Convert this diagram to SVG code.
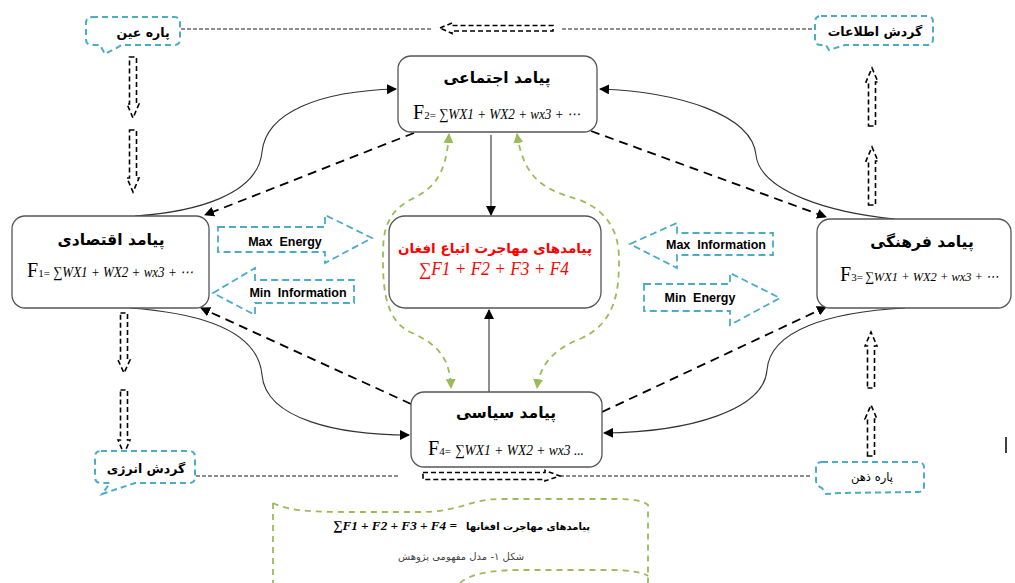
<svg xmlns="http://www.w3.org/2000/svg" width="1015" height="583" viewBox="0 0 1015 583">
<style>
.node{fill:#fff;stroke:#555;stroke-width:1.3}
.title{font-family:"DejaVu Sans","Noto Sans",sans-serif;font-weight:bold;font-size:15.5px;fill:#000;text-anchor:middle}
.fbig{font-family:"Liberation Serif",serif;font-size:20px;fill:#000}
.fsub{font-family:"Liberation Serif",serif;font-size:11px;fill:#000}
.fit{font-family:"Liberation Serif","DejaVu Serif",serif;font-style:italic;font-size:15px;fill:#000}
.callout{fill:#fff;stroke:#4BACC6;stroke-width:2;stroke-dasharray:6 4}
.ctext{font-family:"DejaVu Sans","Noto Sans",sans-serif;font-weight:bold;font-size:12.5px;fill:#000;text-anchor:middle}
.barrow{fill:none;stroke:#4BACC6;stroke-width:1.8;stroke-dasharray:7 4}
.blabel{font-family:"Liberation Sans",Arial,sans-serif;font-weight:bold;font-size:12.5px;fill:#000;text-anchor:middle}
.hollow{fill:none;stroke:#000;stroke-width:1.6;stroke-dasharray:5 3}
.thin{fill:none;stroke:#000;stroke-width:0.9;stroke-dasharray:4 2}
.solid{fill:none;stroke:#333;stroke-width:1.1}
.dash{fill:none;stroke:#000;stroke-width:1.8;stroke-dasharray:9 6}
.green{fill:none;stroke:#9BBB59;stroke-width:1.8;stroke-dasharray:6 5}
</style>
<defs>
<marker id="ah" viewBox="0 0 10 10" refX="9" refY="5" markerWidth="10" markerHeight="10" markerUnits="userSpaceOnUse" orient="auto"><path d="M0,0 L10,5 L0,10 Z" fill="#000"/></marker>
<marker id="ahg" viewBox="0 0 10 10" refX="9" refY="5" markerWidth="10" markerHeight="10" markerUnits="userSpaceOnUse" orient="auto-start-reverse"><path d="M0,0 L10,5 L0,10 Z" fill="#9BBB59"/></marker>
</defs>

<!-- thin dashed information lines -->
<g id="thin-lines">
<line class="thin" x1="181" y1="29" x2="432" y2="29"/>
<line class="thin" x1="562" y1="29" x2="812" y2="29"/>
<line class="thin" x1="196" y1="476" x2="400" y2="476"/>
<line class="thin" x1="560" y1="476" x2="812" y2="476"/>
<path class="hollow" d="M440,28 L452,23 L452,25.5 L553,25.5 L553,31 L452,31 L452,33.5 Z"/>
<path class="hollow" d="M423,472.5 L545,472.5 L545,470.5 L560,476 L545,481 L545,479.5 L423,479.5 Z"/>
</g>

<!-- hollow dashed vertical arrows -->
<g id="flow-arrows">
<path class="hollow" d="M129.5,57 L136.5,57 L136.5,104 L139,104 L133,118 L127,104 L129.5,104 Z"/>
<path class="hollow" d="M129.5,130 L136.5,130 L136.5,178 L139,178 L133,192 L127,178 L129.5,178 Z"/>
<path class="hollow" d="M120.5,313 L127.5,313 L127.5,360 L130,360 L124,373 L118,360 L120.5,360 Z"/>
<path class="hollow" d="M120.5,390 L127.5,390 L127.5,440 L130,440 L124,454 L118,440 L120.5,440 Z"/>
<path class="hollow" d="M868.5,126 L875.5,126 L875.5,82 L878,82 L872,68 L866,82 L868.5,82 Z"/>
<path class="hollow" d="M868.5,205 L875.5,205 L875.5,161 L878,161 L872,147 L866,161 L868.5,161 Z"/>
<path class="hollow" d="M867.5,388 L874.5,388 L874.5,346 L877,346 L871,332 L865,346 L867.5,346 Z"/>
<path class="hollow" d="M867.5,456 L874.5,456 L874.5,419 L877,419 L871,405 L865,419 L867.5,419 Z"/>
</g>

<!-- connectors -->
<g id="connectors">
<path class="solid" d="M135,216 C195,212 258,195 262,152 C266,112 320,91 396,89" marker-end="url(#ah)"/>
<path class="solid" d="M895,219 C832,213 760,192 756,155 C752,115 680,92 600,89" marker-end="url(#ah)"/>
<path class="solid" d="M130,308 C200,313 258,330 262,375 C266,420 340,435 409,435" marker-end="url(#ah)"/>
<path class="solid" d="M905,308 C830,312 770,330 767,370 C764,410 690,432 604,433" marker-end="url(#ah)"/>
<line class="solid" x1="491" y1="135" x2="491" y2="215" marker-end="url(#ah)"/>
<line class="solid" x1="489" y1="392" x2="489" y2="310" marker-end="url(#ah)"/>
<line class="dash" x1="414" y1="133" x2="205" y2="215" marker-end="url(#ah)"/>
<line class="dash" x1="591" y1="131" x2="826" y2="217" marker-end="url(#ah)"/>
<line class="dash" x1="411" y1="404" x2="201" y2="308" marker-end="url(#ah)"/>
<line class="dash" x1="602" y1="412" x2="826" y2="307" marker-end="url(#ah)"/>
<path class="green" d="M449,134 C446,180 430,190 410,200 C382,215 383,240 383,260 C383,290 386,320 410,332 C440,345 450,360 451,388" marker-start="url(#ahg)" marker-end="url(#ahg)"/>
<path class="green" d="M517,134 C524,180 545,190 580,200 C614,214 619,240 619,260 C619,290 616,322 582,338 C552,350 540,365 537,388" marker-start="url(#ahg)" marker-end="url(#ahg)"/>
</g>

<!-- blue block arrows -->
<g id="energy-arrows">
<path class="barrow" d="M218,227 L325,227 L325,215 L372,238 L325,263 L325,252 L218,252 Z"/>
<text class="blabel" x="285" y="246">Max&#160;&#160;Energy</text>
<path class="barrow" d="M213,293 L255,268 L255,280 L354,280 L354,303 L255,303 L255,315 Z"/>
<text class="blabel" x="298" y="297">Min&#160;&#160;Information</text>
<path class="barrow" d="M630,244 L677,223 L677,233 L773,233 L773,255 L677,255 L677,268 Z"/>
<text class="blabel" x="716" y="249">Max&#160;&#160;Information</text>
<path class="barrow" d="M644,284 L730,284 L730,273 L780,298 L730,325 L730,311 L644,311 Z"/>
<text class="blabel" x="700" y="302">Min&#160;&#160;Energy</text>
</g>

<!-- nodes -->
<g id="node-social">
<rect class="node" x="398" y="56" width="199" height="76" rx="13"/>
<text class="title" x="497" y="83">پیامد اجتماعی</text>
<text x="413" y="119"><tspan class="fbig">F</tspan><tspan class="fsub">2=</tspan></text>
<text class="fit" x="439" y="119" textLength="141" lengthAdjust="spacingAndGlyphs">∑WX1 + WX2 + wx3 + ⋯</text>
</g>
<g id="node-economic">
<rect class="node" x="12" y="216" width="197" height="92" rx="13"/>
<text class="title" x="111" y="245">پیامد اقتصادی</text>
<text x="27" y="277"><tspan class="fbig">F</tspan><tspan class="fsub">1=</tspan></text>
<text class="fit" x="53" y="277" textLength="140" lengthAdjust="spacingAndGlyphs">∑WX1 + WX2 + wx3 + ⋯</text>
</g>
<g id="node-central">
<rect class="node" x="389" y="216" width="212" height="92" rx="16"/>
<text x="495" y="253" style="font-family:'DejaVu Sans','Noto Sans',sans-serif;font-weight:bold;font-size:13.5px;fill:#FF0000;text-anchor:middle">پیامدهای مهاجرت اتباع افغان</text>
<text x="494" y="275" textLength="150" lengthAdjust="spacingAndGlyphs" style="font-family:'Liberation Serif',serif;font-style:italic;font-size:18px;fill:#FF0000;text-anchor:middle">∑F1 + F2 + F3 + F4</text>
</g>
<g id="node-cultural">
<rect class="node" x="817" y="219" width="194" height="89" rx="13"/>
<text class="title" x="922" y="247">پیامد فرهنگی</text>
<text x="840" y="281"><tspan class="fbig">F</tspan><tspan class="fsub">3=</tspan></text>
<text class="fit" x="865" y="281" textLength="134" lengthAdjust="spacingAndGlyphs" style="font-size:13.5px">∑WX1 + WX2 + wx3 + ⋯</text>
</g>
<g id="node-political">
<rect class="node" x="411" y="392" width="191" height="75" rx="13"/>
<text class="title" x="506" y="418">پیامد سیاسی</text>
<text x="428" y="455"><tspan class="fbig">F</tspan><tspan class="fsub">4=</tspan></text>
<text class="fit" x="455" y="455" textLength="129" lengthAdjust="spacingAndGlyphs">∑WX1 + WX2 + wx3 ...</text>
</g>

<!-- callouts -->
<g id="callout-eye">
<path class="callout" d="M92,17 L174,17 Q180,17 180,23 L180,39 Q180,45 174,45 L122,45 L105,54 L100,45 L92,45 Q86,45 86,39 L86,23 Q86,17 92,17 Z"/>
<text class="ctext" x="143" y="37">پاره عین</text>
</g>
<g id="callout-info">
<path class="callout" d="M821,16 L927,16 Q933,16 933,22 L933,39 Q933,45 927,45 L845,45 L829,50 L826,45 L821,45 Q815,45 815,39 L815,22 Q815,16 821,16 Z"/>
<text class="ctext" x="875" y="36">گردش اطلاعات</text>
</g>
<g id="callout-energy">
<path class="callout" d="M101,451 L189,451 Q195,451 195,457 L195,477 Q195,483 189,483 L135,483 L102,494 L110,483 L101,483 Q95,483 95,477 L95,457 Q95,451 101,451 Z"/>
<text class="ctext" x="146" y="473">گردش انرژی</text>
</g>
<g id="callout-mind">
<path class="callout" d="M822,462 L918,462 Q924,462 924,468 L924,486 Q924,492 918,492 L840,493 L826,494 L822,488 Q816,486 816,480 L816,468 Q816,462 822,462 Z"/>
<text x="872" y="481" style="font-family:'DejaVu Sans','Noto Sans',sans-serif;font-size:11.5px;fill:#000;text-anchor:middle">پاره ذهن</text>
</g>

<!-- bottom banner -->
<g id="banner">
<path class="green" d="M273,503 C290,512 320,512 360,512 L420,512 C460,512 470,499 500,499 L620,499 C635,499 645,502 648,505 L648,583"/>
<path class="green" d="M273,503 L273,583"/>
<path class="green" d="M460,583 C470,574 490,570 520,570 L610,570 C630,570 645,573 648,576"/>
<text x="333" y="530" textLength="124" lengthAdjust="spacingAndGlyphs" style="font-family:'Liberation Serif',serif;font-style:italic;font-weight:bold;font-size:13px;fill:#000">∑F1 + F2 + F3 + F4 =</text>
<text x="590" y="530" style="font-family:'DejaVu Sans','Noto Sans',sans-serif;font-weight:bold;font-size:10px;fill:#000;text-anchor:end">پیامدهای مهاجرت افغانها</text>
<text x="461" y="560" style="font-family:'DejaVu Sans','Noto Sans',sans-serif;font-size:10px;fill:#444;text-anchor:middle">شکل ۱- مدل مفهومی پژوهش</text>
</g>

<line x1="1006" y1="437" x2="1006" y2="453" stroke="#000" stroke-width="1.5"/>
</svg>
